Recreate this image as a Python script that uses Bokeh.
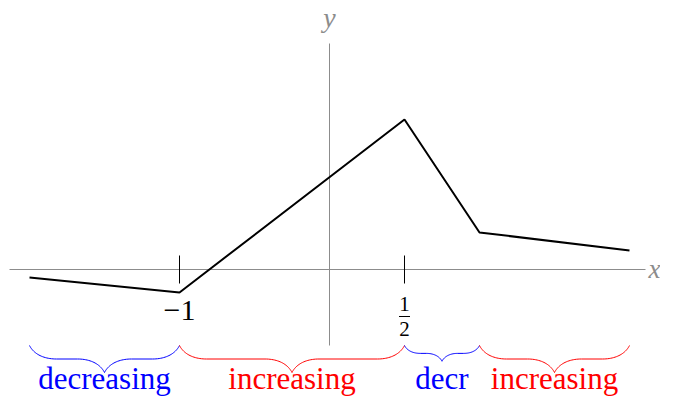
import numpy as np
from bokeh.plotting import figure
from bokeh.models import Range1d
from bokeh.core.properties import value
from bokeh.embed import file_html
from bokeh.resources import INLINE

# ---- data ----
xs = [-2.0, -1.0, 0.5, 1.0, 2.0]
ys = [-0.053, -0.153, 1.0, 0.247, 0.127]
tick_pos = [-1.0, 0.5]
interval_starts = [-2.0, -1.0, 0.5, 1.0]
interval_ends = [-1.0, 0.5, 1.0, 2.0]
interval_labels = ["decreasing", "increasing", "decr", "increasing"]
interval_colors = ["#0000ff", "#ff0000", "#0000ff", "#ff0000"]

# ---- geometry (1 data unit = 150 px on both axes) ----
PX = 1.0 / 150.0
W, H = 660, 398
ox, oy = 329, 269  # canvas pixel of the origin
x0 = -ox * PX
x1 = (W - ox) * PX
y1 = oy * PX
y0 = (oy - H) * PX

FONT = value("Liberation Serif")
GRAY = "#8c8c8c"

p = figure(width=W, height=H, output_backend="svg", toolbar_location=None,
           x_range=Range1d(x0, x1), y_range=Range1d(y0, y1),
           x_axis_location=None, y_axis_location=None, min_border=0,
           outline_line_color=None, background_fill_color="white",
           border_fill_color="white")
p.grid.visible = False

# axes through origin
p.line([-320 * PX, 316 * PX], [0, 0], line_color=GRAY, line_width=1)
p.line([0, 0], [-76 * PX, 226 * PX], line_color=GRAY, line_width=1)
p.text([x1], [1 * PX], text=["x"], text_font=FONT, text_font_size="27px",
       text_font_style="italic", text_color=GRAY, text_align="right",
       text_baseline="alphabetic")
p.text([0], [252 * PX], text=["y"], text_font=FONT, text_font_size="28px",
       text_font_style="italic", text_color=GRAY, text_align="center",
       text_baseline="alphabetic")

# ticks
for t in tick_pos:
    p.line([t, t], [-14 * PX, 14 * PX], line_color="black", line_width=1)

# tick labels
p.text([tick_pos[0]], [-41 * PX], text=["\u22121"], text_font=FONT,
       text_font_size="30px", text_color="black", text_align="center",
       text_baseline="alphabetic")
p.text([tick_pos[1]], [-34 * PX], text=["1"], text_font=FONT,
       text_font_size="21px", text_color="black", text_align="center",
       text_baseline="alphabetic")
p.line([tick_pos[1] - 5.5 * PX, tick_pos[1] + 5.5 * PX], [-47 * PX, -47 * PX],
       line_color="black", line_width=1)
p.text([tick_pos[1]], [-59 * PX], text=["2"], text_font=FONT,
       text_font_size="21px", text_color="black", text_align="center",
       text_baseline="alphabetic")

# function graph
p.line(xs, ys, line_color="black", line_width=2)


# braces (TikZ-style brace decoration, pointing down)
def bez(p0, c1, c2, p3, n=24):
    t = np.linspace(0, 1, n)[:, None]
    pts = ((1 - t) ** 3) * np.array(p0) + 3 * ((1 - t) ** 2) * t * np.array(c1) \
        + 3 * (1 - t) * t ** 2 * np.array(c2) + t ** 3 * np.array(p3)
    return pts


def brace(a_start, a_end, top, amp_max):
    L = a_end - a_start
    a = min(amp_max, L * 0.21)
    m = L / 2.0
    segs = [
        bez((0, 0), (.15 * a, .3 * a), (.5 * a, .5 * a), (a, .5 * a)),
        np.array([(a, .5 * a), (m - a, .5 * a)]),
        bez((m - a, .5 * a), (m - .5 * a, .5 * a), (m - .15 * a, .7 * a), (m, a)),
        bez((m, a), (m + .15 * a, .7 * a), (m + .5 * a, .5 * a), (m + a, .5 * a)),
        np.array([(m + a, .5 * a), (L - a, .5 * a)]),
        bez((L - a, .5 * a), (L - .5 * a, .5 * a), (L - .15 * a, .3 * a), (L, 0)),
    ]
    pts = np.vstack(segs)
    return list(a_start + pts[:, 0]), list(top - pts[:, 1])


brace_top = -76 * PX
for s, e, lab, c in zip(interval_starts, interval_ends, interval_labels, interval_colors):
    bx, by = brace(s, e, brace_top, 27 * PX)
    p.line(bx, by, line_color=c, line_width=1)
    p.text([(s + e) / 2.0], [-109 * PX], text=[lab], text_font=FONT,
           text_font_size="31px", text_color=c, text_align="center",
           text_baseline="alphabetic")

open("out.html", "w").write(file_html(p, INLINE))
